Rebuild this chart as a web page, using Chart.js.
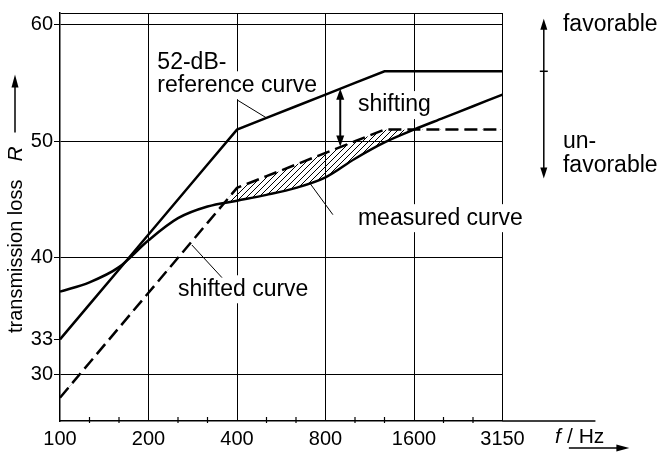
<!DOCTYPE html>
<html>
<head>
<meta charset="utf-8">
<script src="https://cdn.jsdelivr.net/npm/chart.js@4/dist/chart.umd.min.js"></script>
<style>
  html, body { margin: 0; padding: 0; background: #fff; }
  #wrap { width: 665px; height: 455px; position: relative; }
</style>
</head>
<body>
<div id="wrap"><canvas id="chart-tl"></canvas></div>
<script>
// third-octave band centre frequencies, Hz (equally spaced on the axis)
const freqs = ['100', '125', '160', '200', '250', '315', '400', '500', '630', '800', '1000', '1250', '1600', '2000', '2500', '3150'];
// 52 dB reference curve
const referenceCurve = [33, 36, 39, 42, 45, 48, 51, 52, 53, 54, 55, 56, 56, 56, 56, 56];
// reference curve shifted down
const shiftedCurve = [28, 31, 34, 37, 40, 43, 46, 47, 48, 49, 50, 51, 51, 51, 51, 51];
// measured transmission loss
const measuredCurve = [37.1, 37.9, 39.2, 41.5, 43.4, 44.4, 44.9, 45.4, 46.0, 46.9, 48.5, 49.9, 51.0, 52.0, 53.0, 54.0];

const xMajor = ['100', '200', '400', '800', '1600', '3150'];
const yTicks = [30, 33, 40, 50, 60];

const NUM_FONT = '"Liberation Sans", Arial, sans-serif';
const TXT_FONT = '"Liberation Sans", Arial, sans-serif';

function hatchPattern(ctx) {
  var c = document.createElement('canvas');
  c.width = 6; c.height = 6;
  var g = c.getContext('2d');
  g.strokeStyle = '#000';
  g.lineWidth = 1;
  g.beginPath();
  g.moveTo(0, 6); g.lineTo(6, 0);
  g.moveTo(-1, 1); g.lineTo(1, -1);
  g.moveTo(5, 7); g.lineTo(7, 5);
  g.stroke();
  return ctx.createPattern(c, 'repeat');
}

function arrowHead(ctx, x1, y1, x2, y2, len, half) {
  var a = Math.atan2(y2 - y1, x2 - x1);
  ctx.beginPath();
  ctx.moveTo(x2, y2);
  ctx.lineTo(x2 - len * Math.cos(a) + half * Math.sin(a), y2 - len * Math.sin(a) - half * Math.cos(a));
  ctx.lineTo(x2 - len * Math.cos(a) - half * Math.sin(a), y2 - len * Math.sin(a) + half * Math.cos(a));
  ctx.closePath();
  ctx.fill();
}

function line(ctx, x1, y1, x2, y2, w) {
  ctx.lineWidth = w;
  ctx.beginPath();
  ctx.moveTo(x1, y1);
  ctx.lineTo(x2, y2);
  ctx.stroke();
}

// text labels in axis units (band index, dB)
const notes = [
  { t: '52-dB-', i: 3.3, v: 56.7 },
  { t: 'reference curve', i: 3.3, v: 54.8 },
  { t: 'shifting', i: 10.1, v: 53.1 },
  { t: 'measured curve', i: 10.1, v: 43.4 },
  { t: 'shifted curve', i: 4.0, v: 37.3 },
  { t: 'favorable', i: 17.05, v: 60.0 },
  { t: 'un-', i: 17.05, v: 50.0 },
  { t: 'favorable', i: 17.05, v: 47.9 }
];

const labelsPlugin = {
  id: 'labels',
  beforeDatasetsDraw: function (chart) {
    var ctx = chart.ctx, xs = chart.scales.x, ys = chart.scales.y;
    ctx.save();
    ctx.font = '23px ' + TXT_FONT;
    ctx.textAlign = 'left';
    ctx.textBaseline = 'middle';
    notes.forEach(function (n) {
      var x = xs.getPixelForValue(n.i), y = ys.getPixelForValue(n.v);
      var w = ctx.measureText(n.t).width;
      ctx.fillStyle = '#fff';
      ctx.fillRect(x - 3, y - 14, w + 6, 28);
      ctx.fillStyle = '#000';
      ctx.fillText(n.t, x, y);
    });
    ctx.restore();
  },
  afterDraw: function (chart) {
    var ctx = chart.ctx, xs = chart.scales.x, ys = chart.scales.y, a = chart.chartArea;
    var X = function (i) { return xs.getPixelForValue(i); };
    var Y = function (v) { return ys.getPixelForValue(v); };
    ctx.save();
    ctx.strokeStyle = '#000';
    ctx.fillStyle = '#000';

    // minor third-octave ticks across the frequency axis
    freqs.forEach(function (f, i) {
      if (xMajor.indexOf(f) < 0) line(ctx, X(i), a.bottom - 4, X(i), a.bottom + 2, 1.2);
    });
    // axis runs on past 3150 Hz
    line(ctx, a.right, a.bottom, X(18.15), a.bottom, 1.5);

    // leader lines
    line(ctx, X(6.0), Y(53.55), X(7.0), Y(52.0), 1);
    line(ctx, X(8.47), Y(46.4), X(9.25), Y(43.7), 1);
    line(ctx, X(4.47), Y(41.1), X(5.49), Y(38.3), 1);

    // shifting double arrow
    var sx = X(9.5), st = Y(54.5), sb = Y(49.55);
    line(ctx, sx, st + 6, sx, sb - 6, 2);
    arrowHead(ctx, sx, sb, sx, st, 11, 4);
    arrowHead(ctx, sx, st, sx, sb, 11, 4);

    // favorable / unfavorable arrow
    var fx = X(16.4), ft = Y(60.5), fb = Y(46.8);
    line(ctx, fx, ft + 6, fx, fb - 6, 1.5);
    arrowHead(ctx, fx, fb, fx, ft, 11, 3.5);
    arrowHead(ctx, fx, ft, fx, fb, 11, 3.5);
    line(ctx, fx - 4, Y(56), fx + 4, Y(56), 1.5);

    // y-axis title
    ctx.save();
    ctx.translate(22, a.bottom - 88);
    ctx.rotate(-Math.PI / 2);
    ctx.textAlign = 'left';
    ctx.textBaseline = 'alphabetic';
    ctx.font = '20px ' + TXT_FONT;
    ctx.fillText('transmission loss', 0, 0);
    var w = ctx.measureText('transmission loss').width;
    ctx.font = 'italic 21px ' + TXT_FONT;
    ctx.fillText('R', w + 18, 0);
    var rx = w + 18 + ctx.measureText('R').width;
    line(ctx, rx + 14, -7, rx + 62, -7, 1.5);
    arrowHead(ctx, rx + 14, -7, rx + 72, -7, 13, 3.5);
    ctx.restore();

    // x-axis title
    ctx.font = 'italic 21px ' + NUM_FONT;
    ctx.textBaseline = 'middle';
    ctx.textAlign = 'left';
    var tx = X(16.78), ty = a.bottom + 16;
    ctx.fillText('f', tx, ty);
    ctx.font = '21px ' + NUM_FONT;
    ctx.fillText('/ Hz', tx + 12, ty);
    var ax0 = X(17.25), ax1 = X(19.3);
    line(ctx, ax0, a.bottom + 27, ax1 - 10, a.bottom + 27, 1.5);
    arrowHead(ctx, ax0, a.bottom + 27, ax1, a.bottom + 27, 13, 3.5);

    ctx.restore();
  }
};

const ctx = document.getElementById('chart-tl').getContext('2d');

new Chart(ctx, {
  type: 'line',
  data: {
    labels: freqs,
    datasets: [
      {
        label: 'reference curve',
        data: referenceCurve,
        borderColor: '#000',
        borderWidth: 2.5,
        pointRadius: 0,
        tension: 0,
        fill: false
      },
      {
        label: 'shifted curve',
        data: shiftedCurve,
        borderColor: '#000',
        borderWidth: 2.5,
        borderDash: [13, 6],
        pointRadius: 0,
        tension: 0,
        fill: false
      },
      {
        label: 'measured curve',
        data: measuredCurve,
        borderColor: '#000',
        borderWidth: 2.5,
        pointRadius: 0,
        cubicInterpolationMode: 'monotone',
        fill: { target: 1, above: 'rgba(0,0,0,0)', below: hatchPattern(ctx) }
      }
    ]
  },
  options: {
    responsive: true,
    maintainAspectRatio: false,
    animation: false,
    layout: { padding: { left: 0, top: 7, right: 162.5, bottom: 0 } },
    plugins: {
      legend: { display: false },
      tooltip: { enabled: false }
    },
    scales: {
      x: {
        type: 'category',
        offset: false,
        afterFit: function (scale) { scale.height = 34; },
        border: { display: true, color: '#000', width: 1.5 },
        grid: {
          drawTicks: false,
          lineWidth: 1,
          color: function (c) {
            var f = freqs[c.index];
            return (xMajor.indexOf(f) >= 0 && f !== '100') ? '#000' : 'rgba(0,0,0,0)';
          }
        },
        ticks: {
          autoSkip: false,
          maxRotation: 0,
          padding: 6,
          color: '#000',
          font: { size: 20, family: NUM_FONT },
          callback: function (v, i) { return xMajor.indexOf(freqs[i]) >= 0 ? freqs[i] : ''; }
        }
      },
      y: {
        min: 26,
        max: 61,
        afterBuildTicks: function (scale) {
          scale.ticks = yTicks.concat([61]).map(function (v) { return { value: v }; });
        },
        afterFit: function (scale) { scale.width = 60; },
        border: { display: true, color: '#000', width: 1.5 },
        grid: {
          lineWidth: 1,
          tickLength: 6,
          color: function (c) {
            return (c.tick && c.tick.value === 33) ? 'rgba(0,0,0,0)' : '#000';
          },
          tickColor: function (c) {
            return (c.tick && c.tick.value === 61) ? 'rgba(0,0,0,0)' : '#000';
          }
        },
        ticks: {
          padding: 1,
          color: '#000',
          font: { size: 20, family: NUM_FONT },
          callback: function (v) { return v === 61 ? '' : String(v); }
        }
      }
    }
  },
  plugins: [labelsPlugin]
});
</script>
</body>
</html>
